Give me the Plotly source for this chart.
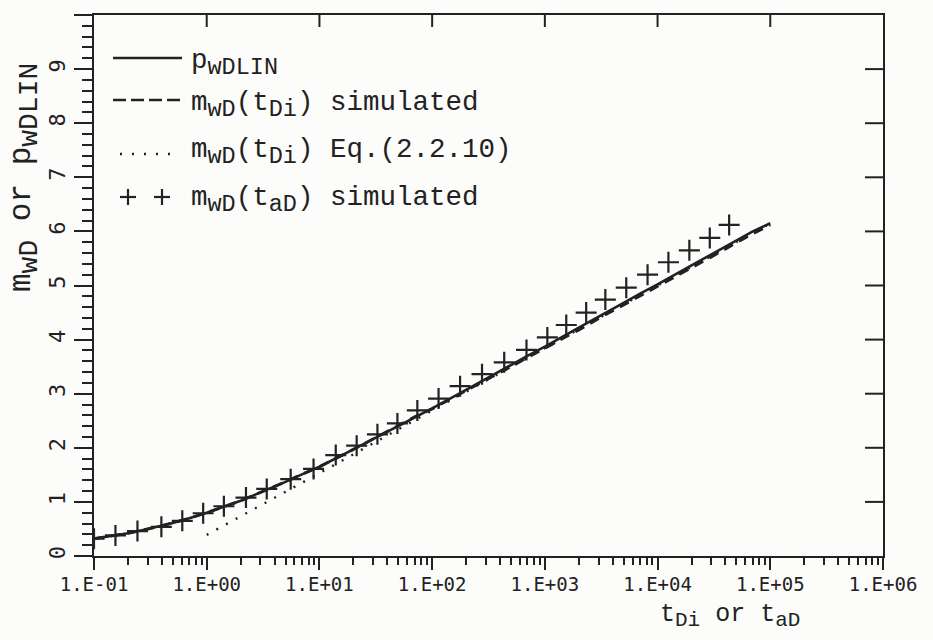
import math
import plotly.graph_objects as go

# ---- data -------------------------------------------------------------
# dimensionless time grid for the continuous curves
T_LINE = [0.1, 0.2, 0.3, 0.5, 0.7, 1, 2, 3, 5, 7, 10, 20, 30, 50, 70,
          100, 200, 300, 500, 700, 1e3, 2e3, 3e3, 5e3, 7e3,
          1e4, 2e4, 3e4, 5e4, 7e4, 1e5]
# p_wDLIN (solid)
P_WDLIN = [0.32, 0.42, 0.50, 0.61, 0.70, 0.80, 1.02, 1.17, 1.37, 1.51, 1.65,
           1.97, 2.16, 2.40, 2.57, 2.73, 3.07, 3.28, 3.53, 3.70, 3.87, 4.22,
           4.43, 4.68, 4.85, 5.02, 5.37, 5.57, 5.83, 6.00, 6.15]
# m_wD(t_Di) simulated (dashed)
M_WD_TDI = [0.32, 0.42, 0.50, 0.61, 0.70, 0.80, 1.02, 1.17, 1.37, 1.51, 1.65,
            1.97, 2.16, 2.40, 2.57, 2.72, 3.05, 3.25, 3.50, 3.67, 3.84, 4.18,
            4.39, 4.64, 4.81, 4.98, 5.33, 5.53, 5.79, 5.96, 6.12]
# m_wD(t_Di) from Eq.(2.2.10) (dotted)
T_EQ = [1, 10, 100, 1e3, 1e4, 1e5]
M_WD_EQ = [0.39, 1.53, 2.69, 3.84, 5.00, 6.15]
# m_wD(t_aD) simulated (crosses)
T_AD = [0.1, 0.155, 0.243, 0.396, 0.607, 0.93, 1.42, 2.23, 3.41, 5.56, 8.87,
        13.96, 21.4, 32.7, 49.2, 73.9, 114, 177, 277, 436, 687, 1052, 1548,
        2325, 3440, 5275, 8150, 12480, 19140, 29060, 43150]
M_WD_TAD = [0.32, 0.38, 0.46, 0.54, 0.65, 0.79, 0.92, 1.08, 1.24, 1.42, 1.61,
            1.865, 2.04, 2.25, 2.45, 2.69, 2.91, 3.14, 3.36, 3.58, 3.81, 4.04,
            4.27, 4.50, 4.74, 4.96, 5.20, 5.43, 5.65, 5.88, 6.12]

X_TICKS = [0.1, 1, 10, 100, 1e3, 1e4, 1e5, 1e6]
X_TICKTEXT = ["1.E-01", "1.E+00", "1.E+01", "1.E+02",
              "1.E+03", "1.E+04", "1.E+05", "1.E+06"]
X_MINOR = [m * 10 ** e for e in range(-1, 6) for m in range(2, 10)]
Y_TICKS = list(range(0, 11))
X_RANGE = [-1, 6]
Y_RANGE = [0, 10]

# ---- style ------------------------------------------------------------
INK = "#222222"
BG = "#fcfcfa"
TXT = "Liberation Mono, Courier New, monospace"
TICKFONT = "DejaVu Sans Mono, monospace"

W, H = 933, 640
ML, MR, MT, MB = 94, 50, 15, 84
PW, PH = W - ML - MR, H - MT - MB


def px(x):
    return (x - ML) / PW


def py(y):
    return (H - MB - y) / PH


def sub(s, size):
    return f'<sub><span style="font-size:{size}px">{s}</span></sub>'


fig = go.Figure()

fig.add_trace(go.Scatter(x=T_LINE, y=P_WDLIN, mode="lines",
                         line=dict(color=INK, width=2.6), showlegend=False))
fig.add_trace(go.Scatter(x=T_LINE, y=M_WD_TDI, mode="lines",
                         line=dict(color=INK, width=3, dash="10px,7px"),
                         showlegend=False))
fig.add_trace(go.Scatter(x=T_EQ, y=M_WD_EQ, mode="lines",
                         line=dict(color=INK, width=2.4, dash="2px,9px"),
                         showlegend=False))
fig.add_trace(go.Scatter(x=T_AD, y=M_WD_TAD, mode="markers",
                         marker=dict(symbol="cross-thin", size=15,
                                     line=dict(color=INK, width=2.2)),
                         showlegend=False))

common = dict(showgrid=False, zeroline=False, tickcolor=INK, tickwidth=2,
              showline=True, mirror=True, linecolor=INK, linewidth=2)

fig.update_layout(
    width=W, height=H,
    margin=dict(l=ML, r=MR, t=MT, b=MB),
    paper_bgcolor=BG, plot_bgcolor=BG,
    showlegend=False,
    xaxis=dict(type="log", range=X_RANGE, autorange=False,
               tickmode="array", tickvals=X_TICKS, ticktext=X_TICKTEXT,
               ticks="outside", ticklen=12, ticklabelstandoff=-2,
               minor=dict(tickmode="array", tickvals=X_MINOR,
                          ticks="outside", ticklen=7, tickwidth=1.6,
                          tickcolor=INK),
               tickfont=dict(family=TICKFONT, size=19, color=INK), **common),
    yaxis=dict(range=Y_RANGE, autorange=False, tickmode="array",
               tickvals=Y_TICKS, ticks="outside", ticklen=18, tickangle=-90,
               minor=dict(dtick=0.2, ticks="outside", ticklen=10,
                          tickwidth=1.6, tickcolor=INK),
               tickfont=dict(family=TICKFONT, size=22, color=INK), **common),
)

# inward frame ticks: decades along the top, integers along the right
for v in X_TICKS[1:-1]:
    xp = (math.log10(v) - X_RANGE[0]) / (X_RANGE[1] - X_RANGE[0])
    fig.add_shape(type="line", xref="paper", yref="paper",
                  x0=xp, x1=xp, y0=1, y1=1 - 12 / PH,
                  line=dict(color=INK, width=2))
for v in Y_TICKS[1:-1]:
    yp = (v - Y_RANGE[0]) / (Y_RANGE[1] - Y_RANGE[0])
    fig.add_shape(type="line", xref="paper", yref="paper",
                  x0=1, x1=1 - 18 / PW, y0=yp, y1=yp,
                  line=dict(color=INK, width=2))

# axis titles
fig.add_annotation(xref="paper", yref="paper", x=px(24), y=py(178),
                   xanchor="center", yanchor="middle",
                   text="m" + sub("wD", 28) + " or p" + sub("wDLIN", 28),
                   textangle=-90, showarrow=False,
                   font=dict(family=TXT, size=31, color=INK))
fig.add_annotation(xref="paper", yref="paper", x=px(730), y=py(616),
                   xanchor="center", yanchor="middle",
                   text="t" + sub("Di", 21) + " or t" + sub("aD", 21),
                   showarrow=False, font=dict(family=TXT, size=25, color=INK))

# key
KEY_X0, KEY_X1, KEY_TX = 113, 182, 189
rows = [
    ("p" + sub("wDLIN", 23.5), 63),
    ("m" + sub("wD", 23.5) + "(t" + sub("Di", 23.5) + ") simulated", 105),
    ("m" + sub("wD", 23.5) + "(t" + sub("Di", 23.5) + ") Eq.(2.2.10)", 152),
    ("m" + sub("wD", 23.5) + "(t" + sub("aD", 23.5) + ") simulated", 200),
]
for label, yc in rows:
    fig.add_annotation(xref="paper", yref="paper", x=px(KEY_TX), y=py(yc),
                       xanchor="left", yanchor="middle", text=label,
                       showarrow=False,
                       font=dict(family=TXT, size=27.5, color=INK))

fig.add_shape(type="line", xref="paper", yref="paper",
              x0=px(KEY_X0), x1=px(KEY_X1), y0=py(58), y1=py(58),
              line=dict(color=INK, width=2.6))
fig.add_shape(type="line", xref="paper", yref="paper",
              x0=px(KEY_X0), x1=px(KEY_X1), y0=py(100), y1=py(100),
              line=dict(color=INK, width=2.6, dash="13px,5px"))
fig.add_shape(type="line", xref="paper", yref="paper",
              x0=px(120), x1=px(175), y0=py(154), y1=py(154),
              line=dict(color=INK, width=2.4, dash="2px,10px"))
for cx in (128, 162):
    fig.add_shape(type="line", xref="paper", yref="paper",
                  x0=px(cx - 8), x1=px(cx + 8), y0=py(197), y1=py(197),
                  line=dict(color=INK, width=2.2))
    fig.add_shape(type="line", xref="paper", yref="paper",
                  x0=px(cx), x1=px(cx), y0=py(189), y1=py(205),
                  line=dict(color=INK, width=2.2))

fig.write_html("out.html")
